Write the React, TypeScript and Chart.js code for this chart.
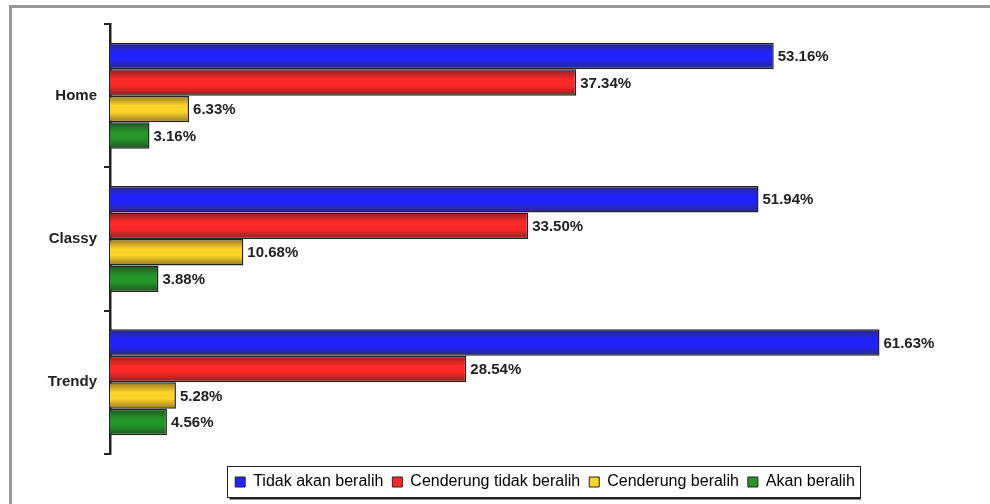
import React, { useEffect, useRef } from 'react';
import { Chart, registerables } from 'chart.js';

Chart.register(...registerables);

const categories = ['Home', 'Classy', 'Trendy'];
const seriesNames = ['Tidak akan beralih', 'Cenderung tidak beralih', 'Cenderung beralih', 'Akan beralih'];
const tidakAkanBeralih = [53.16, 51.94, 61.63];
const cenderungTidakBeralih = [37.34, 33.5, 28.54];
const cenderungBeralih = [6.33, 10.68, 5.28];
const akanBeralih = [3.16, 3.88, 4.56];
const seriesValues = [tidakAkanBeralih, cenderungTidakBeralih, cenderungBeralih, akanBeralih];
const brightColors = ['#2222ff', '#ff2828', '#fcd428', '#24962a'];
const darkColors = ['#2a2a80', '#882222', '#987620', '#1d5520'];
const xMax = 70;
const CAT_PCT = 0.74;

function makeFill(bright: string, dark: string) {
  return (ctx: any) => {
    const chart = ctx.chart;
    const ys = chart.scales && chart.scales.y;
    if (!ys || ctx.type !== 'data' || !ys.height) return bright;
    const n = chart.data.labels.length;
    const band = ys.height / n;
    const group = band * CAT_PCT;
    const nds = chart.data.datasets.length;
    const barH = group / nds;
    const center = ys.getPixelForValue(ctx.dataIndex);
    const top = center - group / 2 + ctx.datasetIndex * barH;
    if (!isFinite(top)) return bright;
    const g = chart.ctx.createLinearGradient(0, top, 0, top + barH);
    g.addColorStop(0, dark);
    g.addColorStop(0.38, bright);
    g.addColorStop(0.62, bright);
    g.addColorStop(1, dark);
    return g;
  };
}

const framePlugin = {
  id: 'frame',
  beforeDraw(chart: any) {
    const c = chart.ctx;
    c.save();
    c.fillStyle = '#ffffff';
    c.fillRect(0, 0, chart.width, chart.height);
    c.fillStyle = '#959595';
    c.fillRect(9, 5, chart.width - 9, 3);
    c.fillRect(9, 5, 3, chart.height - 5);
    c.restore();
  },
};

const legendShiftPlugin = {
  id: 'legendShift',
  afterLayout(chart: any) {
    const lg = chart.legend;
    if (!lg) return;
    const area = chart.chartArea;
    const target = (area.left + area.right) / 2 - 2;
    const current = (lg.left + lg.right) / 2;
    const dx = target - current;
    lg.left += dx;
    lg.right += dx;
  },
};

const valueLabelPlugin = {
  id: 'valueLabels',
  afterDatasetsDraw(chart: any) {
    const c = chart.ctx;
    c.save();
    c.font = 'bold 15px Arial';
    c.fillStyle = '#222222';
    c.textBaseline = 'middle';
    c.textAlign = 'left';
    chart.data.datasets.forEach((ds: any, di: number) => {
      const meta = chart.getDatasetMeta(di);
      meta.data.forEach((el: any, i: number) => {
        const v = ds.data[i];
        c.fillText(v.toFixed(2) + '%', el.x + 4, el.y + 1);
      });
    });
    c.restore();
  },
};

const legendBoxPlugin = {
  id: 'legendBox',
  afterDraw(chart: any) {
    const lg = chart.legend;
    if (!lg || !lg.legendHitBoxes || !lg.legendHitBoxes.length) return;
    const boxes = lg.legendHitBoxes;
    const first = boxes[0];
    const last = boxes[boxes.length - 1];
    const left = Math.round(first.left) - 7.5;
    const right = Math.round(last.left + last.width) + 5.5;
    const top = Math.round(first.top) - 7.5;
    const bottom = Math.round(first.top + first.height) + 7.5;
    const c = chart.ctx;
    c.save();
    c.strokeStyle = '#222222';
    c.lineWidth = 1;
    c.strokeRect(left, top, right - left, bottom - top);
    c.fillStyle = '#222222';
    c.fillRect(left + 2, bottom, right - left - 1.5, 2);
    c.restore();
  },
};

export default function App() {
  const canvasRef = useRef<HTMLCanvasElement | null>(null);

  useEffect(() => {
    if (!canvasRef.current) return;
    const chart = new Chart(canvasRef.current, {
      type: 'bar',
      data: {
        labels: categories,
        datasets: seriesNames.map((name, i) => ({
          label: name,
          data: seriesValues[i],
          backgroundColor: makeFill(brightColors[i], darkColors[i]),
          borderColor: '#222222',
          borderWidth: 1.5,
          borderSkipped: 'start',
          categoryPercentage: CAT_PCT,
          barPercentage: 1,
        })),
      },
      options: {
        indexAxis: 'y',
        animation: false,
        responsive: false,
        maintainAspectRatio: false,
        events: [],
        layout: { padding: { top: 24, right: 6, left: 0, bottom: 4 } },
        scales: {
          x: {
            display: true,
            min: 0,
            max: xMax,
            grid: { display: false },
            border: { display: false },
            ticks: { display: false },
            afterFit: (scale: any) => {
              scale.height = 11;
            },
          },
          y: {
            afterFit: (scale: any) => {
              scale.width = 110;
            },
            border: { display: true, color: '#222222', width: 2.5 },
            grid: {
              display: true,
              drawOnChartArea: false,
              drawTicks: true,
              tickLength: 6,
              color: '#222222',
              lineWidth: 2,
            },
            ticks: {
              padding: 7,
              color: '#222222',
              font: { family: 'Arial', size: 15, weight: 'bold' },
            },
          },
        },
        plugins: {
          tooltip: { enabled: false },
          legend: {
            display: true,
            position: 'bottom',
            align: 'center',
            labels: {
              boxWidth: 10,
              boxHeight: 10,
              padding: 9,
              color: '#111111',
              font: { family: 'Arial', size: 16 },
              generateLabels: () =>
                seriesNames.map((name, i) => ({
                  text: name,
                  fillStyle: brightColors[i],
                  strokeStyle: '#222222',
                  lineWidth: 1,
                  hidden: false,
                  datasetIndex: i,
                })),
            },
          },
        },
      },
      plugins: [framePlugin, legendShiftPlugin, valueLabelPlugin, legendBoxPlugin],
    } as any);
    return () => chart.destroy();
  }, []);

  return (
    <div style={{ position: 'absolute', left: 0, top: 0, width: 990, height: 504 }}>
      <canvas ref={canvasRef} width={990} height={504} style={{ display: 'block' }} />
    </div>
  );
}
